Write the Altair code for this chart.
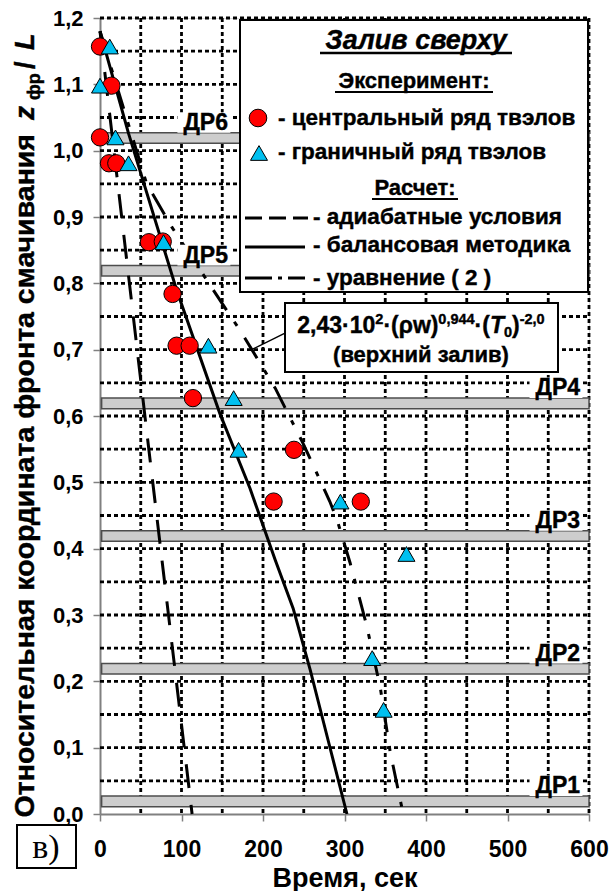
import altair as alt
import pandas as pd

FONT = "Liberation Sans"
SERIF = "Liberation Serif"

# plot-area origin inside the 610x891 canvas
OX, OY = 100, 18
W, H = 489, 796

# --- experiment: wetting-front position vs time ---
central_t = [0, 14, 0, 11, 20, 60, 77, 89, 94, 110, 114, 238, 213, 320]
central_z = [1.157, 1.098, 1.020, 0.981, 0.981, 0.862, 0.863, 0.784, 0.706, 0.706, 0.627, 0.549, 0.471, 0.471]

boundary_t = [12, 0, 19, 35, 78, 133, 164, 170, 295, 376, 334, 348]
boundary_z = [1.157, 1.098, 1.020, 0.981, 0.862, 0.706, 0.627, 0.549, 0.471, 0.392, 0.235, 0.157]

# --- calculations ---
adiabatic_t = [0, 57, 113]
adiabatic_z = [1.18, 0.58, 0.0]

balance_t = [0, 35, 94, 147, 184, 215, 237, 258, 282, 303]
balance_z = [1.18, 1.026, 0.79, 0.604, 0.491, 0.383, 0.31, 0.217, 0.101, 0.0]

eq2_t = [0, 57, 88, 131, 147, 174, 215, 249, 282, 291, 307, 327, 344, 356, 372]
eq2_z = [1.18, 0.951, 0.885, 0.805, 0.775, 0.725, 0.642, 0.559, 0.471, 0.443, 0.378, 0.285, 0.19, 0.094, 0.0]

# --- spacer grids (ДР) ---
spacer_names = ["ДР1", "ДР2", "ДР3", "ДР4", "ДР5", "ДР6"]
spacer_lo = [0.011, 0.211, 0.411, 0.611, 0.811, 1.011]
spacer_hi = [0.027, 0.227, 0.427, 0.627, 0.827, 1.027]
spacer_t0 = [2, 2, 2, 2, 2, 2]
spacer_t1 = [600, 600, 600, 600, 600, 600]
spacer_label_t = [589, 589, 589, 589, 157, 157]

# --- leader from the formula box to the eq. (2) curve ---
leader_t = [227, 186]
leader_z = [0.725, 0.700]

# --- dotted grid: every 50 s and every 0.05 ---
grid_t = list(range(50, 601, 50))
grid_z = [round(0.05 * i, 2) for i in range(1, 25)]

# ------------------------------------------------------------------
x_scale = alt.Scale(domain=[0, 600], nice=False, zero=False)
y_scale = alt.Scale(domain=[0, 1.2], nice=False, zero=False)

x_axis = alt.Axis(
    values=list(range(0, 601, 100)), grid=False,
    tickSize=7, tickColor="#808080", tickWidth=1.5,
    domainColor="#808080", domainWidth=2,
    labelFont=FONT, labelFontSize=23, labelFontWeight="bold", labelColor="black",
    labelBaseline="alphabetic", labelPadding=35, labelFlush=False, labelOverlap=False,
    title="Время, сек", titleFont=FONT, titleFontSize=27, titleFontWeight="bold",
    titleColor="black", titleBaseline="alphabetic", titleY=72, titleX=W / 2,
)
y_axis = alt.Axis(
    values=[round(i * 0.1, 1) for i in range(13)], grid=False,
    tickSize=7, tickColor="#808080", tickWidth=1.5,
    domainColor="#808080", domainWidth=2,
    labelExpr="replace(format(datum.value, '.1f'), '.', ',')",
    labelFont=FONT, labelFontSize=22, labelFontWeight="bold", labelColor="black",
    labelPadding=10, labelFlush=False, labelOverlap=False,
    title=None,
)

X = lambda f: alt.X(f, type="quantitative", scale=x_scale, axis=x_axis)
Y = lambda f: alt.Y(f, type="quantitative", scale=y_scale, axis=y_axis)

GRID_DASH = [4, 3]
vgrid = alt.Chart(pd.DataFrame({"t": grid_t})).mark_rule(
    color="black", strokeWidth=2.8, strokeDash=GRID_DASH
).encode(x=X("t"), y=alt.value(0), y2=alt.value(H))
hgrid = alt.Chart(pd.DataFrame({"z": grid_z})).mark_rule(
    color="black", strokeWidth=2.8, strokeDash=GRID_DASH
).encode(y=Y("z"), x=alt.value(0), x2=alt.value(W))

spacers = pd.DataFrame({
    "name": spacer_names, "lo": spacer_lo, "hi": spacer_hi,
    "t0": spacer_t0, "t1": spacer_t1, "lt": spacer_label_t,
})
spacers["box_t0"] = spacers["lt"] - 62
spacers["box_t1"] = spacers["lt"] + 3
spacers["box_z1"] = spacers["hi"] + 0.031
spacers["lz"] = spacers["hi"] + 0.004

bands = alt.Chart(spacers).mark_rect(fill="#cdcdcd", stroke="#4d4d4d", strokeWidth=1.5).encode(
    x=X("t0"), x2="t1", y=Y("lo"), y2="hi")
label_boxes = alt.Chart(spacers).mark_rect(fill="white").encode(
    x=X("box_t0"), x2="box_t1", y=Y("hi"), y2="box_z1")
labels = alt.Chart(spacers).mark_text(
    font=FONT, fontSize=23, fontWeight="bold", align="right", baseline="alphabetic",
    color="black", stroke="black", strokeWidth=0.4
).encode(x=X("lt"), y=Y("lz"), text="name")


def curve(ts, zs, dash=None):
    df = pd.DataFrame({"t": ts, "z": zs, "i": range(len(ts))})
    kw = dict(color="black", strokeWidth=3)
    if dash:
        kw["strokeDash"] = dash
    return alt.Chart(df).mark_line(**kw).encode(x=X("t"), y=Y("z"), order="i")


line_adiabatic = curve(adiabatic_t, adiabatic_z, [24, 17])
line_balance = curve(balance_t, balance_z)
line_eq2 = curve(eq2_t, eq2_z, [24, 14, 5, 14])

pts_central = alt.Chart(pd.DataFrame({"t": central_t, "z": central_z})).mark_point(
    shape="circle", filled=True, fill="#ff0000", stroke="black", strokeWidth=1, size=300, opacity=1
).encode(x=X("t"), y=Y("z"))
pts_boundary = alt.Chart(pd.DataFrame({"t": boundary_t, "z": boundary_z})).mark_point(
    shape="triangle-up", filled=True, fill="#00c0f0", stroke="black", strokeWidth=1, size=290, opacity=1
).encode(x=X("t"), y=Y("z"))

leader = alt.Chart(pd.DataFrame({"t": leader_t, "z": leader_z, "i": [0, 1]})).mark_line(
    color="black", strokeWidth=1.5).encode(x=X("t"), y=Y("z"), order="i")

# ------------------------------------------------------------------
# decorations placed in pixels (legend, formula box, composite y title)
one = pd.DataFrame({"k": [0]})


def ptext(s, x, y, size, style="normal", align="left", font=FONT, weight="bold", angle=None, heavy=True):
    kw = dict(text=s, font=font, fontSize=size, fontWeight=weight, fontStyle=style,
              align=align, baseline="alphabetic", color="black")
    if heavy:
        kw["stroke"] = "black"
        kw["strokeWidth"] = 0.4
    if angle is not None:
        kw["angle"] = angle
    return alt.Chart(one).mark_text(**kw).encode(x=alt.value(x - OX), y=alt.value(y - OY))


def prule(x1, y1, x2, y2, width=2, dash=None):
    kw = dict(color="black", strokeWidth=width)
    if dash:
        kw["strokeDash"] = dash
    return alt.Chart(one).mark_rule(**kw).encode(
        x=alt.value(x1 - OX), x2=alt.value(x2 - OX), y=alt.value(y1 - OY), y2=alt.value(y2 - OY))


def pbox(x1, y1, x2, y2, width=2):
    return alt.Chart(one).mark_rect(fill="white", stroke="black", strokeWidth=width).encode(
        x=alt.value(x1 - OX), x2=alt.value(x2 - OX), y=alt.value(y1 - OY), y2=alt.value(y2 - OY))


def psym(shape, fill, x, y, size):
    return alt.Chart(one).mark_point(shape=shape, filled=True, fill=fill, stroke="black",
                                     strokeWidth=1, size=size, opacity=1).encode(
        x=alt.value(x - OX), y=alt.value(y - OY))


legend = [
    pbox(240, 20, 588, 292),
    ptext("Залив сверху", 416, 49, 27, style="italic", align="center"),
    prule(320, 53, 512, 53, 2.5),
    ptext("Эксперимент:", 414, 88, 22, align="center"),
    prule(335, 92, 493, 92, 2),
    psym("circle", "#ff0000", 258, 118, 310),
    ptext("- центральный ряд твэлов", 278, 125, 22.5),
    psym("triangle-up", "#00c0f0", 259, 153, 290),
    ptext("- граничный ряд твэлов", 278, 159, 22.5),
    ptext("Расчет:", 415, 195, 22, align="center"),
    prule(372, 199, 458, 199, 2),
    prule(245, 218, 308, 218, 3, [17, 7]),
    ptext("- адиабатные условия", 313, 224, 22.5),
    prule(245, 247, 305, 247, 3),
    ptext("- балансовая методика", 313, 252, 22.5),
    prule(245, 278, 305, 278, 3, [27, 6, 4, 6]),
    ptext("- уравнение ( 2 )", 313, 285, 22.5),
]

# formula box: 2,43·10^2·(ρw)^0,944·(T0)^-2,0
EM = {",": .278, "·": .333, "(": .333, ")": .333, "ρ": .611, "w": .778,
      "T": .611, "-": .333, " ": .278}
for d in "0123456789":
    EM[d] = .556

F, f = 23, 14.5
pieces = [("2,43·10", F, 0, "normal"), ("2", f, -9, "normal"), ("·(ρw)", F, 0, "normal"),
          ("0,944", f, -9, "normal"), ("·(", F, 0, "normal"), ("T", F, 0, "italic"),
          ("0", f, 4, "normal"), (")", F, 0, "normal"), ("-2,0", f, -9, "normal")]
widths = [sum(EM[c] for c in s) * sz for s, sz, _, _ in pieces]
cx, base_y = 421, 333
x0 = cx - sum(widths) / 2
formula = [pbox(285, 303, 558, 372)]
for (s, sz, dy, st), w in zip(pieces, widths):
    formula.append(ptext(s, x0, base_y + dy, sz, style=st))
    x0 += w
formula.append(ptext("(верхний залив)", 421, 362, 22, align="center"))

# y-axis title, read bottom-to-top
ytitle = [
    ptext("Относительная координата фронта смачивания", 34, 134, 28.5, align="right", angle=270),
    ptext("z", 34, 120, 28, style="italic", angle=270),
    ptext("фр", 40, 100, 18, angle=270),
    ptext("/", 34, 69, 27, angle=270),
    ptext("L", 34, 50, 27, style="italic", angle=270),
]

# panel tag
tag = [pbox(17, 825, 76, 868),
       ptext("в)", 46, 858, 34, align="center", font=SERIF, weight="normal", heavy=False)]

layers = ([vgrid, hgrid, bands, line_adiabatic, line_balance, line_eq2, pts_central, pts_boundary,
           label_boxes, labels, leader] + legend + formula + ytitle + tag)

chart = alt.layer(*layers).properties(
    width=W, height=H,
    padding={"left": OX, "top": OY, "right": 610 - OX - W, "bottom": 891 - OY - H},
    autosize=alt.AutoSizeParams(type="none"),
).configure_view(stroke=None).configure(background="white")

chart.save("out.html", embed_options={"renderer": "svg", "actions": False})
